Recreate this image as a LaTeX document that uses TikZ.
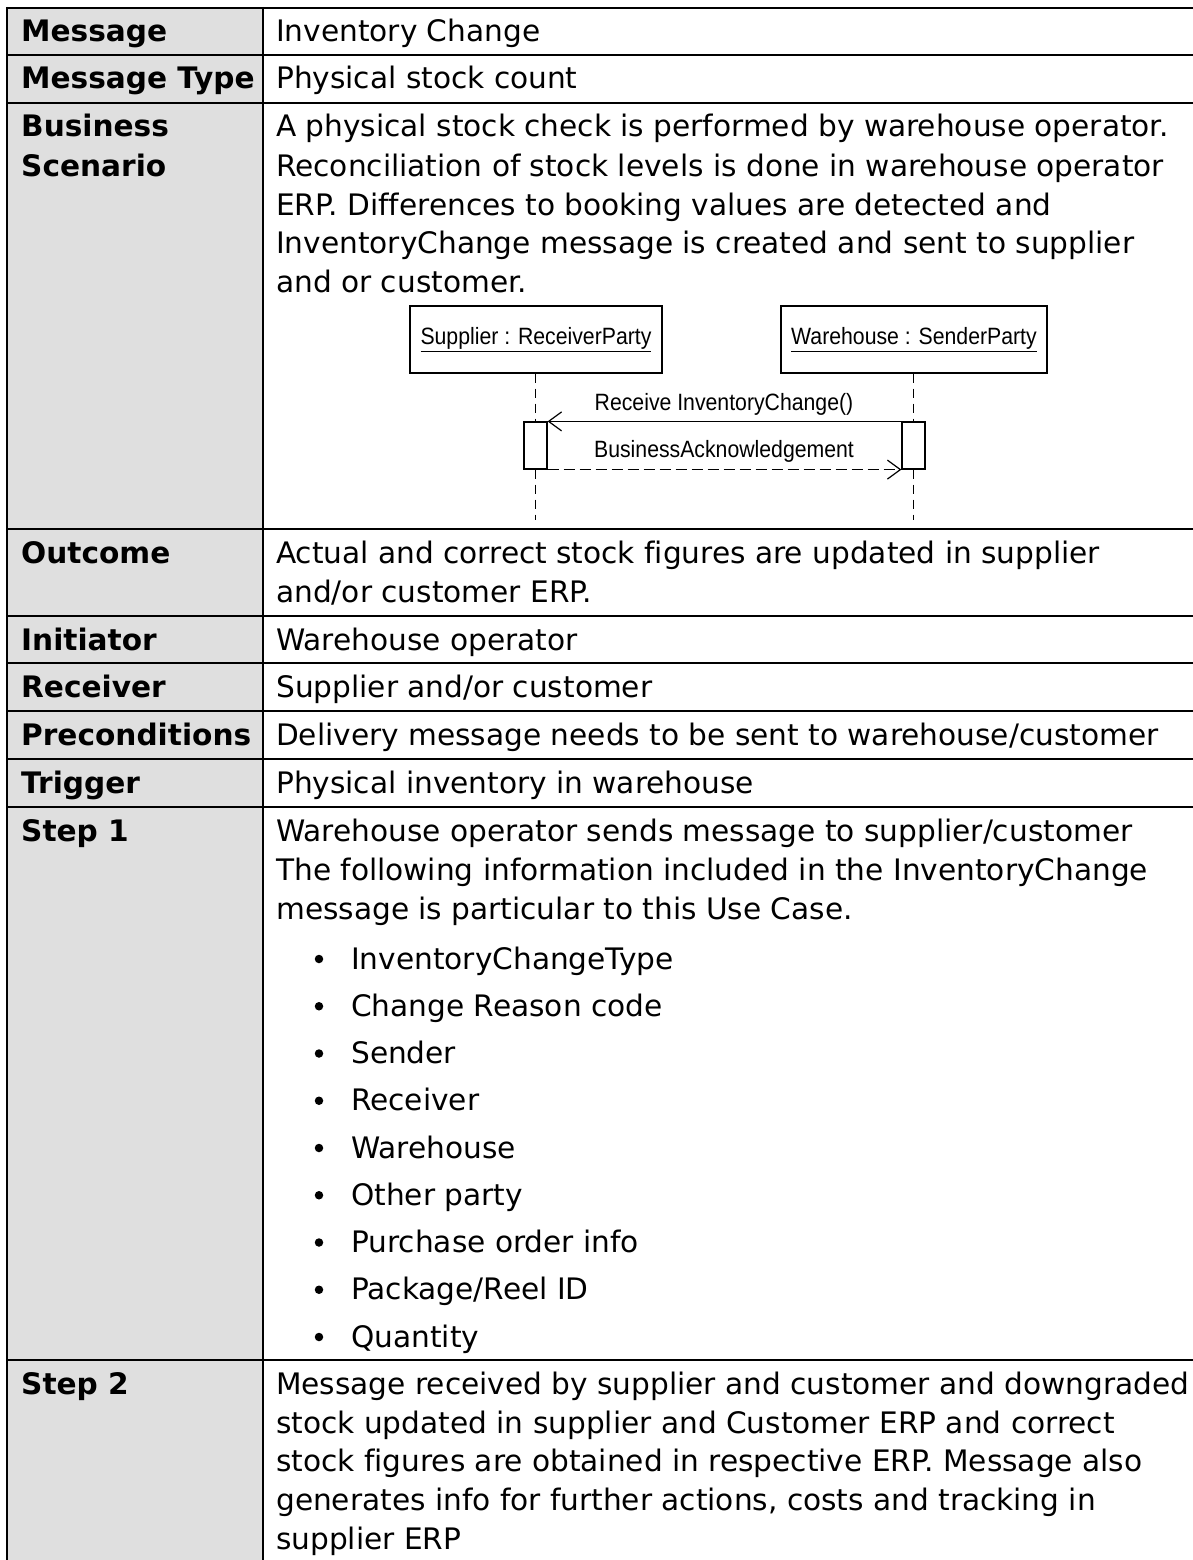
\documentclass[tikz,border=0pt]{standalone}
\usepackage{fontspec}
\setmainfont[Ligatures={NoCommon}]{DejaVu Sans}
\newfontfamily\diagfont[FakeStretch=0.9]{Liberation Sans}
\usetikzlibrary{arrows.meta}
\definecolor{cellgrey}{HTML}{DFDFDF}
\tikzset{
  lbl/.style={anchor=base west, inner sep=0pt, font=\fontsize{29.6}{38}\selectfont\bfseries},
  txt/.style={anchor=base west, inner sep=0pt, font=\fontsize{29.6}{38}\selectfont},
  rule/.style={line width=2.2pt, black},
  seqbox/.style={draw, line width=1.2pt, minimum height=67pt, inner sep=0pt, font=\diagfont\fontsize{23.6}{26}\selectfont},
  actbox/.style={draw, line width=1.2pt, fill=white, minimum width=23pt, minimum height=47pt, inner sep=0pt},
  life/.style={line width=1.5pt, dash pattern=on 9pt off 6pt},
  msg/.style={line width=1.2pt, -{Straight Barb[length=13pt,width=19pt,line width=1.2pt]}},
  msglbl/.style={inner sep=0pt, font=\diagfont\fontsize{23.6}{26}\selectfont},
  bul/.style={circle, fill=black, inner sep=0pt, minimum size=8.5pt}
}
\begin{document}
\begin{tikzpicture}[x=1pt,y=-1pt]
\useasboundingbox (0,0) rectangle (1193,1560);
% grey left column
\fill[cellgrey] (7,8) rectangle (263,1560);
% rules
\foreach \yy in {8,55,103,529,616,663,711,759,807,1360}
  \draw[rule] (6,\yy) -- (1193,\yy);
\draw[rule] (7,7) -- (7,1560);
\draw[rule] (263,7) -- (263,1560);

% left labels
\node[lbl] (lMsg) at (21,42) {Message};
\node[lbl] (lType) at (21,89) {Message Type};
\node[lbl] (lBus1) at (21,137) {Business};
\node[lbl] (lBus2) at (21,176) {Scenario};
\node[lbl] (lOut) at (21,563) {Outcome};
\node[lbl] (lIni) at (21,650) {Initiator};
\node[lbl] (lRec) at (21,697) {Receiver};
\node[lbl] (lPre) at (21,745) {Preconditions};
\node[lbl] (lTrg) at (21,793) {Trigger};
\node[lbl] (lS1) at (21,841) {Step 1};
\node[lbl] (lS2) at (21,1394) {Step 2};

% right texts
\node[txt] (tMsg) at (276,42) {Inventory Change};
\node[txt] (tType) at (276,89) {Physical stock count};
\node[txt] (tB1) at (276,137) {A physical stock check is performed by warehouse operator.};
\node[txt] (tB2) at (276,176) {Reconciliation of stock levels is done in warehouse operator};
\node[txt] (tB3) at (276,215) {ERP. Differences to booking values are detected and};
\node[txt] (tB4) at (276,253) {InventoryChange message is created and sent to supplier};
\node[txt] (tB5) at (276,292) {and or customer.};
\node[txt] (tO1) at (276,563) {Actual and correct stock figures are updated in supplier};
\node[txt] (tO2) at (276,602) {and/or customer ERP.};
\node[txt] (tIni) at (276,650) {Warehouse operator};
\node[txt] (tRec) at (276,697) {Supplier and/or customer};
\node[txt] (tPre) at (276,745) {Delivery message needs to be sent to warehouse/customer};
\node[txt] (tTrg) at (276,793) {Physical inventory in warehouse};
\node[txt] (tS11) at (276,841) {Warehouse operator sends message to supplier/customer};
\node[txt] (tS12) at (276,880) {The following information included in the InventoryChange};
\node[txt] (tS13) at (276,919) {message is particular to this Use Case.};
\foreach \i/\t [count=\k from 0] in {a/InventoryChangeType, b/Change Reason code, c/Sender, d/Receiver, e/Warehouse, f/Other party, g/Purchase order info, h/Package\slash Reel ID, i/Quantity}{
  \node[bul] (dot\i) at (319,{969+47.25*\k-10}) {};
  \node[txt] (item\i) at (351,{969+47.25*\k}) {\t};
}
\node[txt] (tS21) at (276,1394) {Message received by supplier and customer and downgraded};
\node[txt] (tS22) at (276,1433) {stock updated in supplier and Customer ERP and correct};
\node[txt] (tS23) at (276,1471) {stock figures are obtained in respective ERP. Message also};
\node[txt] (tS24) at (276,1510) {generates info for further actions, costs and tracking in};
\node[txt] (tS25) at (276,1549) {supplier ERP};

% sequence diagram
\node[seqbox, minimum width=252pt] (sup) at (536,339.5) {\underline{Supplier : ReceiverParty}};
\node[seqbox, minimum width=266pt] (wh) at (914,339.5) {\underline{Warehouse : SenderParty}};
\node[actbox] (actL) at (535.5,445.5) {};
\node[actbox] (actR) at (913.5,445.5) {};
\coordinate (endL) at (535.5,520);
\coordinate (endR) at (913.5,520);
\draw[life] (sup.south -| actL) -- (actL.north);
\draw[life] (actL.south) -- (endL);
\draw[life] (wh.south -| actR) -- (actR.north);
\draw[life] (actR.south) -- (endR);
\draw[msg] (actR.north west) -- (actL.north east);
\draw[msg, dash pattern=on 11pt off 5pt] (actL.south east) -- (actR.south west);
\node[msglbl] (m1) at (724,404) {Receive InventoryChange()};
\node[msglbl] (m2) at (724,451) {BusinessAcknowledgement};
\end{tikzpicture}
\end{document}
